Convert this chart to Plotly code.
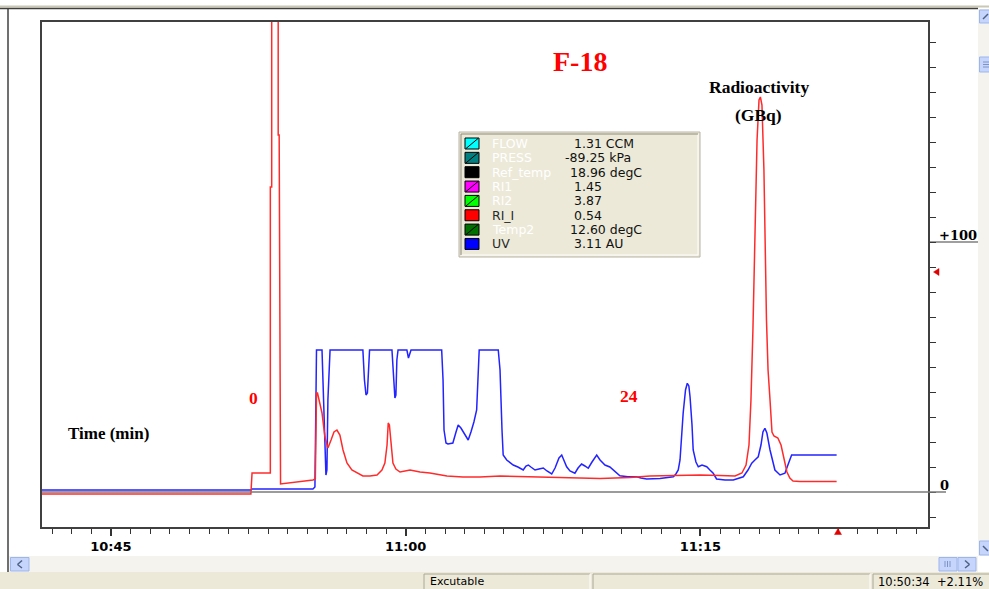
import plotly.graph_objects as go
import pandas as pd

# ---------------- data (minutes after 10:00, signal units) ----------------
run_start = "2000-01-01 10:00"

ri_min = [41.49, 46.98, 52.12, 52.18, 53.11, 53.11, 53.18, 53.18, 53.51, 53.51,
          53.56, 53.63, 54.11, 54.62, 55.28, 55.40, 55.43, 55.46, 55.51, 55.59,
          55.74, 55.89, 56.04, 56.20, 56.35, 56.50, 56.65, 56.81, 57.01, 57.26,
          57.52, 57.82, 58.18, 58.54, 58.79, 58.94, 59.05, 59.11, 59.17, 59.25,
          59.35, 59.50, 59.71, 60.22, 60.73, 61.23, 62.10, 62.91, 63.78, 64.80,
          65.81, 66.83, 67.85, 68.87, 69.89, 70.65, 71.41, 72.43, 73.96, 74.98,
          75.99, 76.76, 77.11, 77.32, 77.47, 77.57, 77.67, 77.77, 77.88, 77.98,
          78.05, 78.13, 78.23, 78.36, 78.44, 78.54, 78.64, 78.74, 78.94, 79.10,
          79.25, 79.40, 79.55, 79.71, 80.06, 81.93]
ri_val = [-0.8, -0.8, -0.8, 7.6, 7.6, 122, 122, 260, 260, 142.8,
          142.8, 3.2, 3.6, 4.0, 4.8, 5.2, 38.8, 39.6, 39.6, 36.8,
          31.6, 22, 17.6, 20.8, 24, 24.8, 22.8, 16.8, 11.6, 8.8,
          7.6, 6.4, 6.4, 6.8, 8.8, 11.6, 18.8, 27.6, 26.8, 18.8,
          11.6, 9.2, 8, 8.8, 8, 7.6, 6.4, 6, 6, 6.4,
          6.2, 6, 5.6, 5.4, 5.4, 5.6, 5.8, 6.4, 6.6, 6.8,
          6.6, 6.4, 7.6, 10.8, 18.8, 36.8, 64.8, 108.8, 140.8, 156.8,
          158, 154.8, 128.8, 68.8, 48.8, 36.8, 24, 22.4, 21.6, 18.8,
          12.8, 8, 5.6, 4.4, 4.2, 4.2]

uv_min = [41.49, 46.98, 52.12, 52.18, 55.28, 55.38, 55.43, 55.46, 55.74, 55.79,
          55.87, 55.94, 55.99, 56.04, 56.15, 57.82, 57.90, 57.98, 58.05, 58.10,
          58.16, 59.30, 59.38, 59.45, 59.50, 59.55, 59.61, 60.06, 60.14, 60.22,
          60.27, 61.83, 61.90, 61.95, 62.05, 62.15, 62.40, 62.56, 62.67, 62.81,
          62.91, 63.07, 63.18, 63.32, 63.47, 63.61, 63.68, 63.74, 64.71, 64.80,
          64.90, 64.96, 65.14, 65.31, 65.47, 65.71, 65.98, 66.12, 66.24, 66.37,
          66.58, 66.78, 67.00, 67.19, 67.43, 67.60, 67.80, 67.94, 68.05, 68.19,
          68.36, 68.61, 68.77, 68.95, 69.12, 69.29, 69.48, 69.72, 69.89, 70.14,
          70.39, 70.56, 70.90, 71.31, 71.75, 71.97, 72.26, 72.94, 73.62, 73.75,
          73.87, 73.96, 74.12, 74.24, 74.33, 74.41, 74.47, 74.57, 74.63, 74.77,
          74.89, 75.08, 75.32, 75.48, 75.65, 75.82, 76.25, 76.67, 77.01, 77.18,
          77.42, 77.61, 77.77, 77.94, 78.08, 78.18, 78.28, 78.38, 78.54, 78.69,
          78.79, 79.05, 79.20, 79.30, 79.45, 79.64, 81.93]
uv_val = [0.8, 0.8, 0.8, 1.2, 1.2, 2, 36.8, 56.8, 56.8, 44.8,
          20.8, 6.8, 8.8, 36.8, 56.8, 56.8, 44.8, 38.8, 39.6, 48.8,
          56.8, 56.8, 44.8, 37.6, 38.8, 52.8, 56.8, 56.8, 53.6, 56,
          56.8, 56.8, 44.8, 24.8, 19.6, 19.2, 19.6, 24, 26.8, 25.6,
          24.4, 22, 20.8, 24, 28, 32.8, 44.8, 56.8, 56.8, 48.8,
          24.8, 14.8, 12.8, 11.6, 10.8, 10, 8.8, 10.4, 10.8, 10,
          8.8, 9.2, 9.6, 8.4, 7.2, 9.6, 13.6, 14.8, 12.8, 10.1,
          8.4, 7.5, 9.6, 11.2, 10.4, 9.5, 12, 14.8, 12.8, 10.8,
          10, 8.8, 6.5, 6.1, 6.1, 5.6, 5.2, 5.4, 6.1, 7.2,
          8.8, 12.8, 31.6, 40.8, 43.5, 42.4, 38.1, 26.8, 16.8, 12,
          10.1, 10.8, 10.1, 8.8, 7.5, 5.2, 4.8, 4.8, 5.6, 6.1,
          8.8, 11.5, 12.8, 14.1, 18.8, 24, 25.5, 23.6, 16.8, 11.6,
          8.8, 6.8, 7.2, 7.5, 10.8, 14.8, 14.8]

assert len(ri_min) == len(ri_val), (len(ri_min), len(ri_val))
assert len(uv_min) == len(uv_val), (len(uv_min), len(uv_val))

x_range_min = [41.49, 86.58]
y_range = [-14, 188]
y_ticks = list(range(-10, 181, 10))
cursor_min = 82.0      # time cursor (11:22)
cursor_level = 88.0    # level cursor on the right scale

legend_names = ["FLOW", "PRESS", "Ref_temp", "RI1", "RI2", "RI_I", "Temp2", "UV"]
legend_values = ["1.31 CCM", "-89.25 kPa", "18.96 degC", "1.45", "3.87", "0.54",
                 "12.60 degC", "3.11 AU"]
legend_colors = ["#00FFFF", "#008080", "#000000", "#FF00FF", "#00FF00", "#FF0000",
                 "#007000", "#0000FF"]
legend_hidden = [True, True, False, True, True, False, True, False]
legend_name_shown = [False, False, False, False, False, True, False, True]

status_left = "Excutable"
status_right = "10:50:34  +2.11%"


def to_time(mins):
    base = pd.Timestamp(run_start)
    return [base + pd.Timedelta(minutes=m) for m in mins]


# ---------------- geometry helpers (window chrome in pixels) --------------
W, H = 989, 589
L, R, T, B = 42, 928, 22, 527


def px(x):
    return (x - L) / (R - L)


def py(y):
    return (B - y) / (B - T)


def xfrac(m):   # axis fraction of a time value (minutes)
    return (m - x_range_min[0]) / (x_range_min[1] - x_range_min[0])


def yfrac(v):   # axis fraction of a signal value
    return (v - y_range[0]) / (y_range[1] - y_range[0])


shapes = []
annotations = []


def rect(x0, y0, x1, y1, fill=None, line=None, lw=1):
    shapes.append(dict(type="rect", xref="paper", yref="paper",
                       x0=px(x0), x1=px(x1), y0=py(y1), y1=py(y0),
                       fillcolor=fill if fill else "rgba(0,0,0,0)",
                       line=dict(color=line if line else "rgba(0,0,0,0)", width=lw if line else 0),
                       layer="above"))


def seg(x0, y0, x1, y1, color, width=1):
    shapes.append(dict(type="line", xref="paper", yref="paper",
                       x0=px(x0), x1=px(x1), y0=py(y0), y1=py(y1),
                       line=dict(color=color, width=width), layer="above"))


def text(x, y, s, size, color="#000", family="DejaVu Sans", xanchor="left",
         bold=False):
    annotations.append(dict(xref="paper", yref="paper", x=px(x), y=py(y),
                            text=s, showarrow=False, xanchor=xanchor,
                            yanchor="middle",
                            font=dict(size=size, color=color, family=family,
                                      weight="bold" if bold else "normal")))


def tri(pts, color):
    d = "M " + " L ".join(f"{a:.5f},{b:.5f}" for a, b in pts) + " Z"
    shapes.append(dict(type="path", xref="paper", yref="paper", path=d,
                       fillcolor=color, line=dict(color=color, width=0.5),
                       layer="above"))


# ---------------- traces ----------------
fig = go.Figure()
fig.add_trace(go.Scatter(x=to_time(uv_min), y=uv_val, mode="lines",
                         line=dict(color="#2323ff", width=1.5), name="UV"))
fig.add_trace(go.Scatter(x=to_time(ri_min), y=ri_val, mode="lines",
                         line=dict(color="#ff2b2b", width=1.5), name="RI_I"))

# ---------------- cursor markers (red triangles) ----------------
cx = xfrac(cursor_min)
dxp, dyp = 1 / (R - L), 1 / (B - T)
tri([(cx - 3.5 * dxp, -7.5 * dyp), (cx + 3.5 * dxp, -7.5 * dyp), (cx, -1.5 * dyp)], "#e00000")
cy = yfrac(cursor_level)
tri([(1 + 5.5 * dxp, cy), (1 + 11 * dxp, cy + 3.5 * dyp), (1 + 11 * dxp, cy - 3.5 * dyp)], "#e00000")

# ---------------- window chrome ----------------
rect(0, 5.5, 989, 7.5, fill="#CAC7B5")
seg(0, 8.5, 978, 8.5, "#404040", 1.5)
seg(8, 8.5, 8, 572, "#404040", 1.5)

# vertical scrollbar
rect(978, 9, 989, 556, fill="#F4F3EE")
for (y0, y1) in [(10, 23), (57, 72), (541, 555)]:
    rect(979.5, y0, 991, y1, fill="#C6D5FC", line="#9DB5EE", lw=1)
seg(983, 19, 988, 14, "#4D6185", 1.5)
for yy in (62, 64.5, 67):
    seg(983, yy, 989, yy, "#7E93C4", 1)
seg(983, 546, 988, 551, "#4D6185", 1.5)

# horizontal scrollbar
rect(9, 556, 978, 572, fill="#F4F3EE")
rect(10.5, 557.5, 29, 571, fill="#C6D5FC", line="#9DB5EE", lw=1)
rect(939, 557.5, 957, 571, fill="#C6D5FC", line="#9DB5EE", lw=1)
rect(958, 557.5, 976, 571, fill="#C6D5FC", line="#9DB5EE", lw=1)
seg(22, 560.5, 17.5, 564.5, "#4D6185", 1.5)
seg(17.5, 564.5, 22, 568, "#4D6185", 1.5)
seg(965, 560.5, 969.5, 564.5, "#4D6185", 1.5)
seg(969.5, 564.5, 965, 568, "#4D6185", 1.5)
for xx in (945, 947.5, 950):
    seg(xx, 561, xx, 567, "#7E93C4", 1)

# status bar
rect(0, 572, 989, 589.5, fill="#ECE9D8")
for (x0, x1) in [(424, 590), (593, 870), (873, 990)]:
    seg(x0, 574, x1, 574, "#ACA899", 1)
    seg(x0, 574, x0, 589, "#ACA899", 1)
    seg(x1, 574, x1, 589, "#FFFFFF", 1)
text(428, 581.5, status_left, 11, "#000")
text(876, 581.5, status_right, 11.5, "#000")

# zero line extending beyond frame, +100 label line
fig.add_shape(type="line", xref="paper", yref="y", x0=0, x1=px(946), y0=0, y1=0,
              line=dict(color="#7a7a7a", width=1.5), layer="above")
fig.add_shape(type="line", xref="paper", yref="y", x0=1, x1=px(978), y0=100, y1=100,
              line=dict(color="#404040", width=1.2), layer="above")
annotations.append(dict(xref="paper", yref="y", x=px(937), y=100, yanchor="bottom",
                        xanchor="left", text="+100", showarrow=False, yshift=-3,
                        font=dict(family="DejaVu Serif", size=13, weight="bold", color="#000")))
annotations.append(dict(xref="paper", yref="y", x=px(938), y=0, yanchor="bottom",
                        xanchor="left", text="0", showarrow=False, yshift=-3,
                        font=dict(family="DejaVu Serif", size=13, weight="bold", color="#000")))

# ---------------- legend / readout box ----------------
bx0, by0, bx1, by1 = 459, 132, 700, 257
rect(bx0, by0, bx1, by1, fill="#ECE9D8", line="#B8B5A6", lw=1)
seg(bx0 + 2, by1 - 2, bx1 - 2, by1 - 2, "#FFFFFF", 1)
seg(bx1 - 2, by0 + 2, bx1 - 2, by1 - 2, "#FFFFFF", 1)
seg(bx0 + 2, by0 + 2, bx1 - 2, by0 + 2, "#8E8B7D", 1)
seg(bx0 + 2, by0 + 2, bx0 + 2, by1 - 2, "#8E8B7D", 1)
row0, row_step = 143.5, 14.35
for i, nm in enumerate(legend_names):
    yc = row0 + i * row_step
    rect(465, yc - 5.5, 479, yc + 5.5, fill=legend_colors[i], line="#000", lw=1)
    if legend_hidden[i]:
        seg(466, yc + 5, 478, yc - 5, "#000", 1)
    text(490, yc, nm, 12.5, "#2a2a2a" if legend_name_shown[i] else "#FFFFFF")
    vx = 563 if legend_values[i].startswith("-") else (568 if legend_values[i][:2] in ("18", "12") else 572)
    text(vx, yc, legend_values[i], 12.5, "#111")

# ---------------- chart annotations ----------------
text(580, 62, "F-18", 28, "#FF0000", "Liberation Serif", "center", True)
text(759, 87, "Radioactivity", 17.5, "#000", "Liberation Serif", "center", True)
text(758, 115, "(GBq)", 17.5, "#000", "Liberation Serif", "center", True)
text(253, 398, "0", 17.5, "#FF0000", "Liberation Serif", "center", True)
text(629, 396, "24", 17.5, "#FF0000", "Liberation Serif", "center", True)
text(108, 433, "Time (min)", 17, "#000", "Liberation Serif", "center", True)

xr = to_time(x_range_min)
fig.update_layout(
    width=W, height=H,
    margin=dict(l=L, r=W - R, t=T, b=H - B, pad=0),
    paper_bgcolor="#FFFFFF", plot_bgcolor="#FFFFFF",
    showlegend=False,
    shapes=list(fig.layout.shapes) + shapes,
    annotations=annotations,
    xaxis=dict(type="date", range=xr, tickformat="%H:%M",
               tick0=pd.Timestamp(run_start) + pd.Timedelta(minutes=45),
               dtick=15 * 60 * 1000, ticks="outside", ticklen=7, tickwidth=2,
               tickcolor="#333", showgrid=False, zeroline=False,
               showline=True, mirror=True, linecolor="#404040", linewidth=1.5,
               tickfont=dict(family="DejaVu Sans", size=13, color="#000", weight="bold"),
               minor=dict(dtick=60 * 1000, tick0=pd.Timestamp(run_start),
                          ticks="outside", ticklen=5,
                          tickcolor="#333", tickwidth=1, showgrid=False),
               automargin=False, fixedrange=True),
    yaxis=dict(range=y_range, side="right", tickmode="array", tickvals=y_ticks,
               ticks="outside", ticklen=6, tickcolor="#333", tickwidth=1,
               showticklabels=False, showgrid=False, zeroline=False,
               showline=True, mirror=True, linecolor="#404040", linewidth=1.5,
               automargin=False, fixedrange=True),
)

fig.write_html("out.html", config={"displayModeBar": False},
               post_script="document.body.style.margin='0';document.body.style.overflow='hidden';")
